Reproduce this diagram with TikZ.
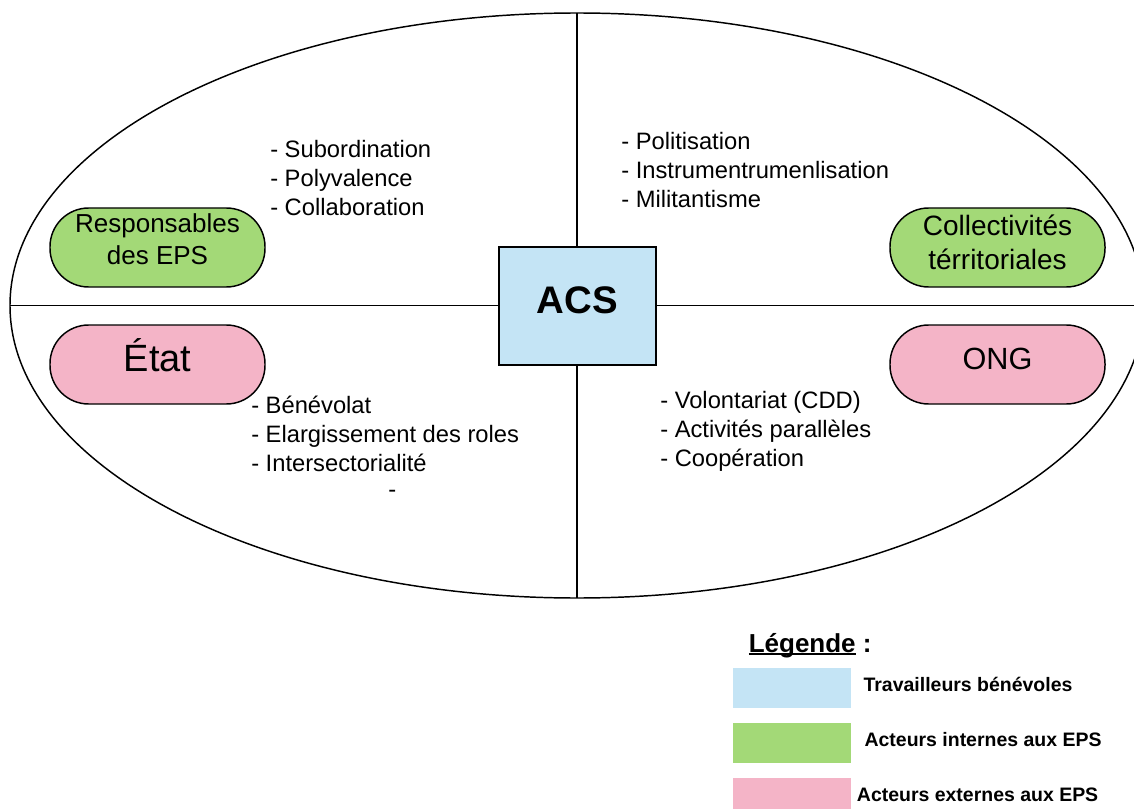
\documentclass[tikz,border=0pt]{standalone}
\usepackage{fontspec}
\setmainfont{Liberation Sans}
\usetikzlibrary{shapes.geometric}
\definecolor{acsblue}{RGB}{196,228,245}
\definecolor{intgreen}{RGB}{163,217,119}
\definecolor{extpink}{RGB}{244,180,199}
\begin{document}
\begin{tikzpicture}[x=0.75pt,y=-0.75pt,
  frame/.style={draw=black, line width=1.3pt},
  pill/.style={draw=black, line width=1.1pt, rounded corners=29pt, minimum width=161.25pt, minimum height=59.25pt, inner sep=0pt},
  item/.style={anchor=base west, inner sep=0pt, font=\fontsize{17.8}{21}\selectfont},
  leg/.style={anchor=base west, inner sep=0pt, font=\bfseries\fontsize{14.6}{17}\selectfont},
  swatch/.style={minimum width=88.5pt, minimum height=30pt, inner sep=0pt, anchor=north west}]
\useasboundingbox (0,0) rectangle (1134,809);
\clip (0,0) rectangle (1134,809);

% big ellipse and axes
\node[ellipse, draw=black, line width=1.1pt, minimum width=850.5pt, minimum height=438.75pt, inner sep=0pt, outer sep=0pt] (E) at (577,305.5) {};
\draw[frame] (E.north) -- (E.south);
\draw[frame] (E.west) -- (E.east);

% centre box
\node[draw=black, fill=acsblue, line width=1.4pt, minimum width=117.75pt, minimum height=88.5pt, inner sep=0pt, text height=10.5pt, text depth=0pt, font=\bfseries\fontsize{28.8}{30}\selectfont] (acs) at (577.5,306) {ACS};

% actors
\node[pill, fill=intgreen, text height=0pt, text depth=21.75pt, font=\fontsize{19.5}{24}\selectfont] (resp) at (157.5,247.5) {\begin{tabular}[t]{@{}c@{}}Responsables\\des EPS\end{tabular}};
\node[pill, fill=intgreen, text height=0pt, text depth=17.25pt, font=\fontsize{21}{24.75}\selectfont] (coll) at (997.5,247.5) {\begin{tabular}[t]{@{}c@{}}Collectivités\\térritoriales\end{tabular}};
\node[pill, fill=extpink, text height=10.8pt, text depth=0pt, font=\fontsize{28.5}{30}\selectfont] (etat) at (157.5,364.5) {État};
\node[pill, fill=extpink, text height=6.75pt, text depth=0pt, font=\fontsize{23}{26}\selectfont] (ong) at (997.5,364.5) {ONG};

% lists
\node[item] (s1) at (270,158) {- Subordination};
\node[item] (s2) at (270,187) {- Polyvalence};
\node[item] (s3) at (270,216) {- Collaboration};

\node[item] (p1) at (621,150) {- Politisation};
\node[item] (p2) at (621,179) {- Instrumentrumenlisation};
\node[item] (p3) at (621,207.5) {- Militantisme};

\node[item] (b1) at (251,413) {- Bénévolat};
\node[item] (b2) at (251,442) {- Elargissement des roles};
\node[item] (b3) at (251,471) {- Intersectorialité};
\node[item] (b4) at (388,497) {-};

\node[item] (v1) at (660,408) {- Volontariat (CDD)};
\node[item] (v2) at (660,437) {- Activités parallèles};
\node[item] (v3) at (660,466) {- Coopération};

% legend
\node[anchor=base west, inner sep=0pt, font=\bfseries\fontsize{19.5}{22}\selectfont] (legtitle) at (748.5,652.3) {\setbox0\hbox{Légende}\rlap{\rule[-2.3pt]{\wd0}{1.6pt}}\box0~:};
\node[swatch, fill=acsblue] (sw1) at (733,668) {};
\node[swatch, fill=intgreen] (sw2) at (733,723) {};
\node[swatch, fill=extpink] (sw3) at (733,778) {};
\node[leg] (l1) at (863.3,691.7) {Travailleurs bénévoles};
\node[leg] (l2) at (864.3,746.7) {Acteurs internes aux EPS};
\node[leg] (l3) at (856.7,801) {Acteurs externes aux EPS};
\end{tikzpicture}
\end{document}
